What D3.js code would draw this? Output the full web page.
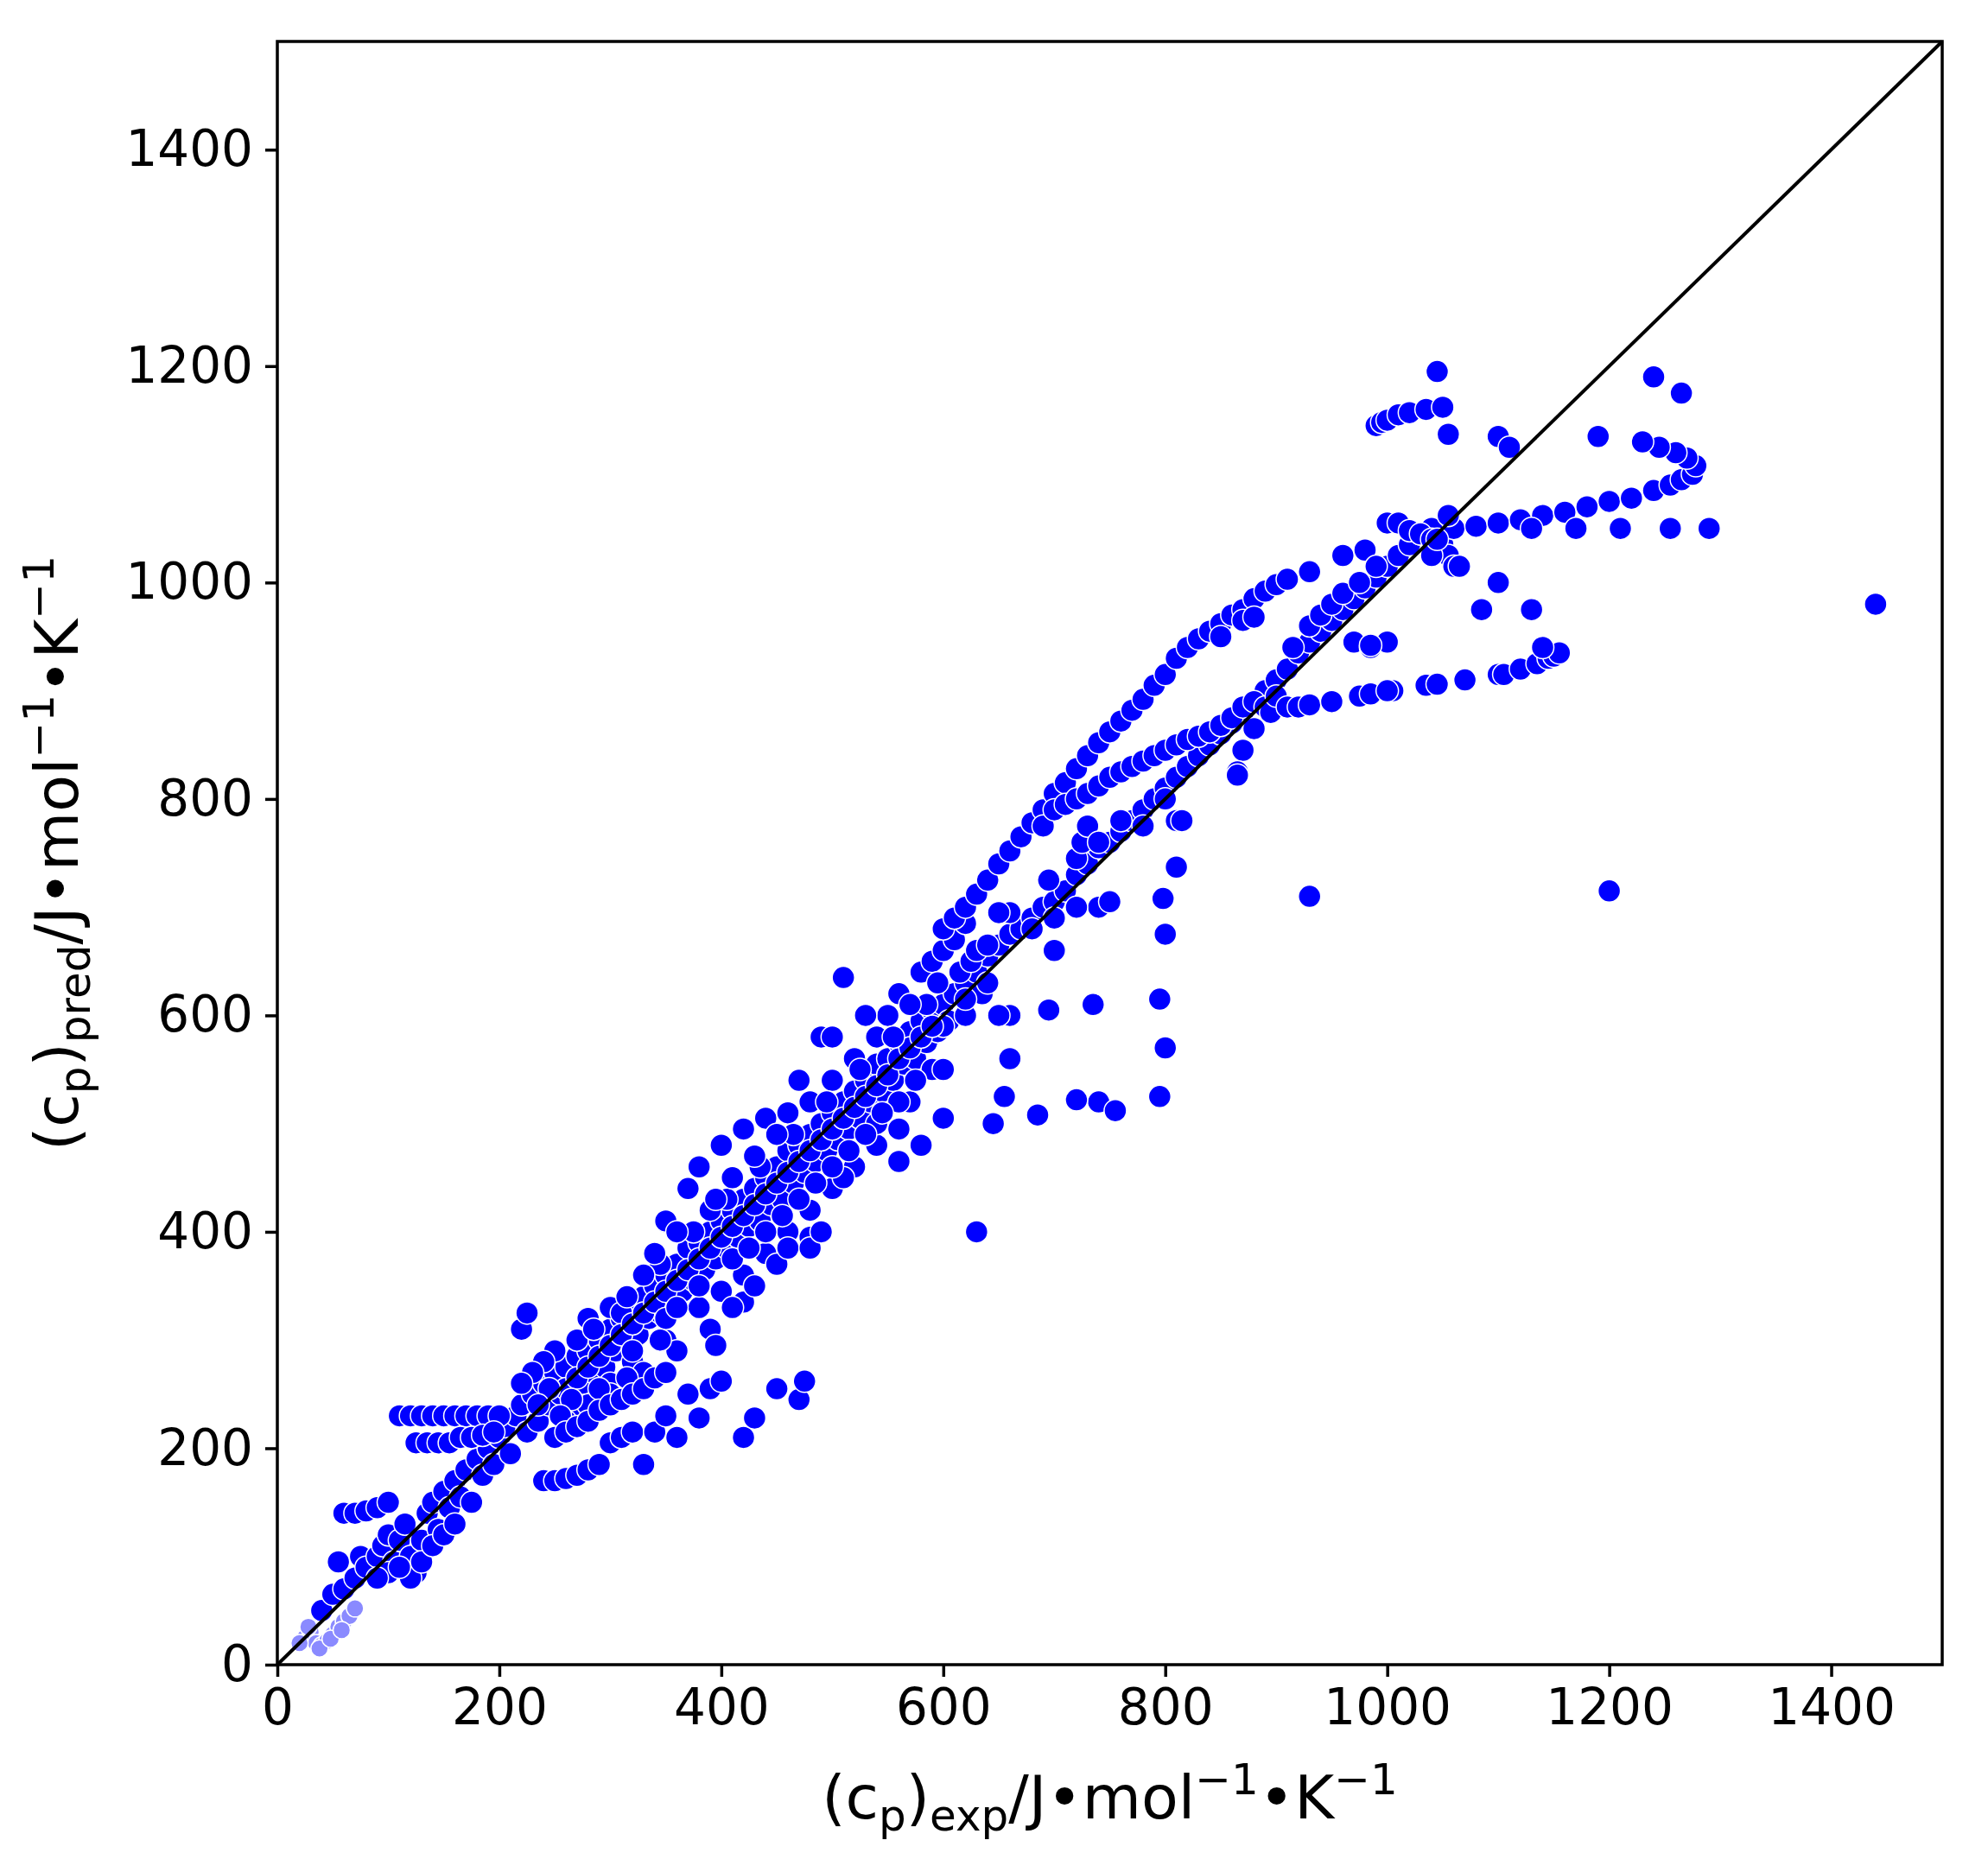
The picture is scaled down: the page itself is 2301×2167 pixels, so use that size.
<!DOCTYPE html>
<html><head><meta charset="utf-8">
<script src="https://cdn.jsdelivr.net/npm/d3@7"></script>
<style>body{margin:0;background:#fff}</style></head>
<body><svg id="c" width="2301" height="2167"></svg>
<script>
const xTicks=[0,200,400,600,800,1000,1200,1400];
const yTicks=[0,200,400,600,800,1000,1200,1400];
const faintLow=[[25,25],[30,30],[35,20],[40,18],[45,22],[50,28],[55,35],[60,40],[65,45],[70,52],[38,15],[48,24],[58,32],[20,20],[28,35]];
const diagBand=[[40,50],[50,65],[55,95],[60,70],[70,80],[75,100],[80,90],[90,100],[95,110],[100,120],[105,95],[110,115],[115,130],[120,100],[125,85],[130,115],[135,140],[140,150],[145,125],[150,160],[155,145],[160,170],[165,155],[170,180],[175,150],[180,190],[185,175],[190,200],[195,185],[200,210],[205,220],[210,195],[215,230],[220,240],[225,215],[230,250],[235,225],[240,260],[245,240],[250,270],[255,250],[260,275],[265,235],[270,285],[275,260],[280,290],[285,270],[290,300],[295,275],[300,310],[305,290],[310,320],[315,300],[320,330],[325,305],[330,340],[335,320],[340,350],[345,325],[350,360],[355,340],[360,370],[365,345],[370,385],[375,355],[380,390],[385,365],[390,400],[395,375],[400,410],[405,385],[410,420],[415,395],[420,430],[425,405],[430,440],[435,410],[440,450],[445,425],[450,460],[455,430],[460,475],[465,445],[470,480],[475,455],[480,490],[485,465],[490,500],[495,475],[500,510],[505,485],[510,520],[515,495],[520,530],[525,505],[530,540],[535,520],[540,555],[545,530],[550,560],[555,540],[560,575],[565,555],[570,585],[575,560],[580,595],[585,575],[590,605],[595,585],[600,610],[605,595],[610,620],[620,630],[630,640],[640,655],[650,665],[660,675],[670,680],[680,690],[690,700],[700,705],[710,715],[720,730],[730,740],[740,755],[750,760],[760,770],[770,780],[780,790],[790,800],[800,810],[810,820],[820,830],[830,840],[840,850],[850,860],[860,870],[870,880],[880,890],[890,900],[900,910],[910,920],[920,935],[930,945],[940,955],[950,965],[960,975],[970,985],[980,995],[990,1005],[1000,1015],[1010,1025],[1020,1035],[1030,1045],[1040,1050],[350,300],[380,330],[400,345],[420,360],[440,380],[460,400],[480,420],[500,440],[520,460],[540,480],[560,495],[320,280],[300,260],[280,240],[260,225],[300,250],[330,270],[360,290],[390,310],[420,335],[450,370],[480,395],[510,450],[540,500],[570,520],[600,590],[350,410],[370,440],[380,460],[400,480],[420,495],[440,505],[460,510],[480,520],[500,540],[520,560],[540,580],[550,600],[470,540],[490,580],[500,580],[510,635],[530,600],[560,620],[580,640],[590,650],[600,660],[610,670],[620,685],[300,330],[310,325],[280,320],[270,300],[250,290],[240,280],[230,270],[220,260]];
const denseBand=[[260,255],[270,265],[280,275],[290,285],[300,295],[310,305],[320,315],[330,325],[340,335],[350,345],[360,355],[370,365],[380,375],[390,385],[400,395],[410,405],[420,415],[430,425],[440,435],[450,445],[460,455],[470,465],[480,475],[490,485],[500,495],[510,505],[520,515],[530,525],[540,535],[550,545],[560,560],[570,570],[580,580],[590,590],[285,310],[315,340],[345,370],[375,400],[405,430],[435,460],[465,490],[495,520],[525,550],[555,580],[585,610],[615,640],[290,255],[320,290],[350,320],[380,350],[410,375],[440,400],[470,430],[500,460],[530,490],[560,520],[590,550],[620,600],[340,380],[360,400],[390,420],[410,450],[430,470],[450,490],[570,610],[595,630],[625,650],[635,620],[330,360],[265,245],[245,255],[235,240],[255,230],[395,430],[455,415],[425,385],[360,330],[315,265],[345,300],[485,445],[515,475],[545,510],[575,540]];
const lowBand=[[60,140],[70,140],[80,142],[90,145],[100,150],[110,230],[120,230],[130,230],[140,230],[150,230],[160,230],[170,230],[180,230],[190,230],[200,230],[125,205],[135,205],[145,205],[155,205],[165,210],[175,210],[185,212],[195,215],[220,310],[225,325],[240,170],[250,170],[260,172],[270,175],[280,180],[290,185],[300,205],[310,210],[320,215],[330,185],[340,215],[350,230],[360,210],[370,250],[380,228],[390,255],[395,295],[400,262],[420,210],[430,228],[450,255],[470,245],[475,262],[410,330],[430,350],[460,385],[480,385],[490,400],[250,210],[260,215],[270,220],[280,225],[290,235],[300,240],[310,245],[320,250],[330,255],[340,265],[350,270],[120,80],[130,95],[140,110],[100,85],[90,80],[110,90],[150,120],[160,130]];
const upperArc=[[600,680],[610,690],[620,700],[630,712],[640,725],[650,740],[660,752],[670,765],[680,778],[690,790],[700,805],[710,815],[720,828],[730,840],[740,852],[750,862],[760,872],[770,882],[780,892],[790,905],[800,915],[810,930],[820,940],[830,948],[840,955],[850,962],[860,970],[870,975],[880,985],[890,992],[900,998],[910,1003],[930,1010],[850,950],[870,965],[880,968]];
const midArc=[[690,775],[700,790],[710,795],[720,800],[730,805],[740,812],[750,820],[760,825],[770,830],[780,835],[790,840],[800,845],[810,850],[820,855],[830,858],[840,862],[850,868],[860,875],[870,885],[880,890],[890,885],[720,745],[725,760],[730,775],[740,760],[760,780],[780,775],[800,800],[810,780],[815,780],[740,700],[750,705],[720,700],[700,690],[680,680],[660,695],[630,660],[640,630],[660,600],[650,600],[620,615],[870,845],[865,825],[880,865],[895,880],[900,895]];
const rightArm=[[960,1025],[980,1030],[1000,1055],[1010,1055],[1020,1048],[1030,1045],[1040,1040],[1050,1035],[1055,1025],[1060,1015],[1065,1015],[1060,1050],[1080,1052],[1100,1055],[1120,1058],[1140,1062],[1160,1065],[1180,1070],[1200,1075],[1220,1078],[1240,1085],[1255,1090],[1265,1095],[1275,1100],[1278,1108],[1270,1115],[1260,1120],[1245,1125],[1230,1130],[1055,1062],[990,1145],[995,1148],[1000,1150],[1010,1155],[1020,1157],[1035,1160],[1050,1162],[1045,1195],[1055,1137],[1100,1135],[1110,1125],[1190,1135],[1240,1190],[1265,1175]];
const lowerArm=[[910,885],[920,885],[930,887],[950,890],[975,895],[985,897],[1005,900],[1035,905],[1045,906],[1070,910],[1100,915],[1105,915],[1120,920],[1135,925],[1145,930],[1150,932],[1155,935],[1140,940],[970,945],[985,940],[1000,945],[1040,1025],[1045,1040],[915,940],[930,960],[940,970],[950,980],[960,990],[975,1000],[990,1015]];
const outliers=[[1440,980],[1200,715],[930,710],[630,400],[1130,975],[1085,975],[1100,1000],[1210,1050],[1255,1050],[1290,1050],[1170,1050],[1130,1050],[795,615],[800,570],[795,525],[800,675],[798,708],[810,737],[740,520],[720,522],[755,512],[735,610],[695,605],[685,508],[660,560],[655,525],[645,500],[700,660],[695,725],[600,550],[600,505],[580,480],[560,465],[650,695],[640,665],[865,822],[985,942],[1000,900]];
const allPts=[].concat(diagBand,denseBand,lowBand,upperArc,midArc,rightArm,lowerArm,outliers);

const svg=d3.select('#c');
const L=321,R=2248,T=48,B=1927;
const x=d3.scaleLinear().domain([0,1500]).range([L,R]);
const y=d3.scaleLinear().domain([0,1500]).range([B,T]);
svg.append('g').selectAll('circle').data(faintLow).join('circle')
 .attr('cx',d=>x(d[0])).attr('cy',d=>y(d[1])).attr('r',10).attr('fill','#8a8aff').attr('stroke','#fff').attr('stroke-width',1.5);
svg.append('g').selectAll('circle').data(allPts).join('circle')
 .attr('cx',d=>x(d[0])).attr('cy',d=>y(d[1])).attr('r',13).attr('fill','#0000ff').attr('stroke','#fff').attr('stroke-width',1.5);
svg.append('line').attr('x1',x(0)).attr('y1',y(0)).attr('x2',x(1500)).attr('y2',y(1500)).attr('stroke','#000').attr('stroke-width',4);
svg.append('rect').attr('x',L).attr('y',T).attr('width',R-L).attr('height',B-T).attr('fill','none').attr('stroke','#000').attr('stroke-width',3.5);
const fs=58;
const fmt=d3.format('d');
const gx=svg.append('g').attr('transform',`translate(0,${B})`).call(d3.axisBottom(x).tickValues(xTicks).tickFormat(fmt).tickSize(14).tickPadding(14));
const gy=svg.append('g').attr('transform',`translate(${L},0)`).call(d3.axisLeft(y).tickValues(yTicks).tickFormat(fmt).tickSize(14).tickPadding(14));
[gx,gy].forEach(g=>{g.select('.domain').remove();g.selectAll('line').attr('stroke-width',3.5);
 g.selectAll('text').attr('font-family','DejaVu Sans').attr('font-size',fs).attr('fill','#000');});
svg.append('text').attr('x',(L+R)/2).attr('y',2105).attr('text-anchor','middle').attr('font-family','DejaVu Sans').attr('font-size',70)
 .html('(c<tspan dy="14" font-size="50">p</tspan><tspan dy="-14">)</tspan><tspan dy="14" font-size="50">exp</tspan><tspan dy="-14">/J•mol</tspan><tspan dy="-28" font-size="50">−1</tspan><tspan dy="28">•K</tspan><tspan dy="-28" font-size="50">−1</tspan>');
svg.append('text').attr('transform',`translate(90,${(T+B)/2}) rotate(-90)`).attr('text-anchor','middle').attr('font-family','DejaVu Sans').attr('font-size',70)
 .html('(c<tspan dy="14" font-size="50">p</tspan><tspan dy="-14">)</tspan><tspan dy="14" font-size="50">pred</tspan><tspan dy="-14">/J•mol</tspan><tspan dy="-28" font-size="50">−1</tspan><tspan dy="28">•K</tspan><tspan dy="-28" font-size="50">−1</tspan>');
</script></body></html>
